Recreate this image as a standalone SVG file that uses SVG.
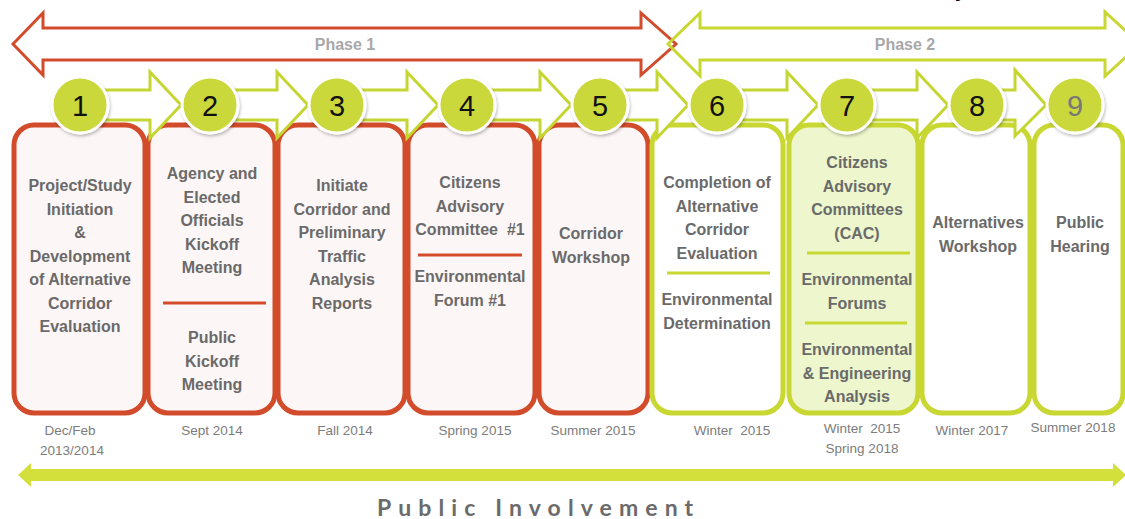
<svg xmlns="http://www.w3.org/2000/svg" width="1125" height="519" viewBox="0 0 1125 519">
<defs>
<style>
.t{font-family:"Liberation Sans",Arial,sans-serif;font-weight:bold;font-size:16px;fill:#6a6a6a;text-anchor:middle}
.d{font-family:"Liberation Sans",Arial,sans-serif;font-size:13.5px;fill:#7c7c7c;text-anchor:middle}
.ph{font-family:"Liberation Sans",Arial,sans-serif;font-weight:bold;font-size:16px;fill:#a8a8a8;text-anchor:middle}
.num{font-family:"Liberation Sans",Arial,sans-serif;font-size:29px;fill:#111;text-anchor:middle}
.rbox{fill:#fdf6f6;stroke:#d24c2c;stroke-width:5}
.gbox{fill:#ffffff;stroke:#c9d733;stroke-width:5}
.gbox2{fill:#edf6cc;stroke:#c9d733;stroke-width:5}
.rsep{stroke:#d24c2c;stroke-width:3}
.gsep{stroke:#c9d733;stroke-width:3}
.conn{fill:#ffffff;stroke:#c5d531;stroke-width:3;stroke-linejoin:miter}
.badge{fill:#cbd83a;stroke:#ffffff;stroke-width:3}
</style>
<filter id="sh" x="-30%" y="-30%" width="160%" height="160%">
<feDropShadow dx="1" dy="2" stdDeviation="1.5" flood-color="#000" flood-opacity="0.25"/>
</filter>
</defs>
<rect width="1125" height="519" fill="#ffffff"/>
<text x="955" y="-3" style="font-family:'Liberation Sans',Arial,sans-serif;font-weight:bold;font-size:20px;fill:#000">y</text>

<g id="phases">
<polygon points="13,44 43,13 43,28 641,28 641,13 676,44 641,75 641,60 43,60 43,75" fill="none" stroke="#d24c2c" stroke-width="3"/>
<polygon points="668,44 700,13 700,28 1105,28 1105,12 1140,44 1105,76 1105,60 700,60 700,76" fill="none" stroke="#c9d733" stroke-width="3"/>
<text class="ph" x="345" y="50">Phase 1</text>
<text class="ph" x="905" y="50">Phase 2</text>
</g>

<g id="step1">
<rect class="rbox" x="14" y="125" width="131" height="288" rx="20"/>
<text class="t" x="80" y="191">Project/Study</text>
<text class="t" x="80" y="214.5">Initiation</text>
<text class="t" x="80" y="238">&amp;</text>
<text class="t" x="80" y="261.5">Development</text>
<text class="t" x="80" y="285">of Alternative</text>
<text class="t" x="80" y="308.5">Corridor</text>
<text class="t" x="80" y="332">Evaluation</text>
<text class="d" x="70" y="435">Dec/Feb</text>
<text class="d" x="72" y="455">2013/2014</text>
</g>
<g id="step2">
<rect class="rbox" x="148" y="125" width="127" height="288" rx="20"/>
<text class="t" x="212" y="179">Agency and</text>
<text class="t" x="212" y="202.5">Elected</text>
<text class="t" x="212" y="226">Officials</text>
<text class="t" x="212" y="249.5">Kickoff</text>
<text class="t" x="212" y="273">Meeting</text>
<line class="rsep" x1="163" y1="303" x2="266" y2="303"/>
<text class="t" x="212" y="343">Public</text>
<text class="t" x="212" y="366.5">Kickoff</text>
<text class="t" x="212" y="390">Meeting</text>
<text class="d" x="212" y="435">Sept 2014</text>
</g>
<g id="step3">
<rect class="rbox" x="278" y="125" width="127" height="288" rx="20"/>
<text class="t" x="342" y="191">Initiate</text>
<text class="t" x="342" y="214.5">Corridor and</text>
<text class="t" x="342" y="238">Preliminary</text>
<text class="t" x="342" y="261.5">Traffic</text>
<text class="t" x="342" y="285">Analysis</text>
<text class="t" x="342" y="308.5">Reports</text>
<text class="d" x="345" y="435">Fall 2014</text>
</g>
<g id="step4">
<rect class="rbox" x="408" y="125" width="127" height="288" rx="20"/>
<text class="t" x="470" y="188">Citizens</text>
<text class="t" x="470" y="211.5">Advisory</text>
<text class="t" x="470" y="235" xml:space="preserve">Committee  #1</text>
<line class="rsep" x1="418" y1="255" x2="522" y2="255"/>
<text class="t" x="470" y="282">Environmental</text>
<text class="t" x="470" y="305.5">Forum #1</text>
<text class="d" x="475" y="435">Spring 2015</text>
</g>
<g id="step5">
<rect class="rbox" x="539" y="125" width="109" height="288" rx="20"/>
<text class="t" x="591" y="239">Corridor</text>
<text class="t" x="591" y="262.5">Workshop</text>
<text class="d" x="593" y="435">Summer 2015</text>
</g>
<g id="step6">
<rect class="gbox" x="652" y="125" width="131" height="288" rx="20"/>
<text class="t" x="717" y="188">Completion of</text>
<text class="t" x="717" y="211.5">Alternative</text>
<text class="t" x="717" y="235">Corridor</text>
<text class="t" x="717" y="258.5">Evaluation</text>
<line class="gsep" x1="667" y1="273" x2="770" y2="273"/>
<text class="t" x="717" y="305">Environmental</text>
<text class="t" x="717" y="328.5">Determination</text>
<text class="d" x="732" y="435" xml:space="preserve">Winter  2015</text>
</g>
<g id="step7">
<rect class="gbox2" x="789" y="125" width="129" height="288" rx="20"/>
<text class="t" x="857" y="168">Citizens</text>
<text class="t" x="857" y="191.5">Advisory</text>
<text class="t" x="857" y="215">Committees</text>
<text class="t" x="857" y="238.5">(CAC)</text>
<line class="gsep" x1="807" y1="253" x2="910" y2="253"/>
<text class="t" x="857" y="285">Environmental</text>
<text class="t" x="857" y="308.5">Forums</text>
<line class="gsep" x1="805" y1="323" x2="907" y2="323"/>
<text class="t" x="857" y="355">Environmental</text>
<text class="t" x="857" y="378.5">&amp; Engineering</text>
<text class="t" x="857" y="402">Analysis</text>
<text class="d" x="862" y="433" xml:space="preserve">Winter  2015</text>
<text class="d" x="862" y="453">Spring 2018</text>
</g>
<g id="step8">
<rect class="gbox" x="922" y="125" width="108" height="288" rx="20"/>
<text class="t" x="978" y="228">Alternatives</text>
<text class="t" x="978" y="251.5">Workshop</text>
<text class="d" x="972" y="435">Winter 2017</text>
</g>
<g id="step9">
<rect class="gbox" x="1034" y="125" width="89" height="288" rx="20"/>
<text class="t" x="1080" y="228">Public</text>
<text class="t" x="1080" y="251.5">Hearing</text>
<text class="d" x="1073" y="432">Summer 2018</text>
</g>

<g id="connectors">
<polygon class="conn" points="80,90 150,90 150,72 181,105 150,138 150,120 80,120"/>
<polygon class="conn" points="210,90 277,90 277,72 308,105 277,138 277,120 210,120"/>
<polygon class="conn" points="337,90 407,90 407,72 438,105 407,138 407,120 337,120"/>
<polygon class="conn" points="467,90 540,90 540,72 571,105 540,138 540,120 467,120"/>
<polygon class="conn" points="600,90 657,90 657,72 688,105 657,138 657,120 600,120"/>
<polygon class="conn" points="717,90 787,90 787,72 818,105 787,138 787,120 717,120"/>
<polygon class="conn" points="847,90 917,90 917,72 948,105 917,138 917,120 847,120"/>
<polygon class="conn" points="977,90 1015,90 1015,70 1046,105 1015,136 1015,120 977,120"/>
</g>

<g id="badges">
<g id="badge1"><circle class="badge" cx="80" cy="105" r="28" filter="url(#sh)"/><text class="num" x="80" y="116">1</text></g>
<g id="badge2"><circle class="badge" cx="210" cy="105" r="28" filter="url(#sh)"/><text class="num" x="210" y="116">2</text></g>
<g id="badge3"><circle class="badge" cx="337" cy="105" r="28" filter="url(#sh)"/><text class="num" x="337" y="116">3</text></g>
<g id="badge4"><circle class="badge" cx="467" cy="105" r="28" filter="url(#sh)"/><text class="num" x="467" y="116">4</text></g>
<g id="badge5"><circle class="badge" cx="600" cy="105" r="28" filter="url(#sh)"/><text class="num" x="600" y="116">5</text></g>
<g id="badge6"><circle class="badge" cx="717" cy="105" r="28" filter="url(#sh)"/><text class="num" x="717" y="116">6</text></g>
<g id="badge7"><circle class="badge" cx="847" cy="105" r="28" filter="url(#sh)"/><text class="num" x="847" y="116">7</text></g>
<g id="badge8"><circle class="badge" cx="977" cy="105" r="28" filter="url(#sh)"/><text class="num" x="977" y="116">8</text></g>
<g id="badge9"><circle class="badge" cx="1075" cy="105" r="28" filter="url(#sh)"/><text class="num" x="1075" y="116" style="fill:#777">9</text></g>
</g>

<g id="public-involvement">
<polygon points="18,475 31,463 31,469 1113,469 1113,463 1126,475 1113,487 1113,481 31,481 31,487" fill="#d3df3b"/>
<text x="377" y="516" style="font-family:Lato,'Open Sans',sans-serif;font-weight:bold;font-size:23px;fill:#6b6b6b;letter-spacing:7.1px">Public Involvement</text>
</g>
</svg>
